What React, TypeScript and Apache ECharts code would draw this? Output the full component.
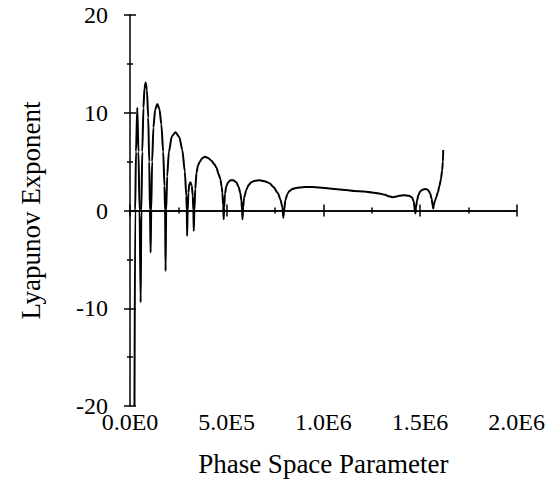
import React, { useEffect, useRef } from "react";
import * as echarts from "echarts";

// Phase space parameter (x) and Lyapunov exponent (y)
const xValues = [
  23196, 26804, 30928, 37629, 43814, 49484, 55154,
  58762, 63402, 69587, 74742, 80927, 87628, 94329, 99484, 103092, 106700,
  109793, 114433, 121134, 129897, 140721, 152062, 162371, 171649, 178350, 181443, 184020,
  187112, 192266, 201029, 216493, 235565, 255153, 270617, 283503, 291235, 293812, 295359,
  298451, 302059, 306698, 312884, 319585, 324739, 327832, 329894,
  332987, 337626, 343812, 351544, 360822, 373709, 386595, 402059, 421131, 435564, 446904, 458760, 467523, 474224, 477832, 481955, 484532,
  487110, 491233, 498450, 507728, 520615, 533501, 549996, 561852, 570614, 576284, 579893, 581954,
  585047, 590202, 601542, 613397, 627315, 646903, 670098, 695871, 721644, 742262, 764426, 778343, 788652, 792775,
  796901, 804118, 814427, 824736, 840200, 858241, 876282, 907210, 943292, 979374, 1030920, 1082466, 1116999, 1159785, 1211331, 1252568, 1288650, 1319578, 1340196, 1357207, 1371124, 1391743, 1417516, 1443288, 1458752, 1468031, 1473185, 1476278,
  1479370, 1484525, 1492257, 1502566, 1515453, 1529370, 1541226, 1551535, 1560298, 1565452, 1568545,
  1572153, 1577308, 1585040, 1592771, 1600503, 1608235, 1614420, 1618544, 1620090,
];
const yValues = [
  -20, 0, 6, 10.5, 6, 0, -9.4,
  0, 6, 10.5, 12.5, 13.1, 12.3, 9.5, 5, 0, -4.3,
  0, 5, 8.5, 10.3, 10.9, 10.4, 8.8, 6, 2.5, 0, -6.2,
  0, 3.5, 6, 7.6, 8.0, 7.5, 6.2, 4, 1.5, 0, -2.6,
  0, 1.8, 2.7, 2.9, 2.5, 1.5, 0, -2.1,
  0, 2.2, 3.85, 4.6, 5.0, 5.35, 5.5, 5.4, 5.1, 4.75, 4.4, 3.7, 3.2, 2.4, 1.8, 0.5, -0.9,
  0.3, 1.7, 2.5, 2.9, 3.1, 3.1, 2.9, 2.4, 1.8, 1.0, 0, -0.9,
  0.3, 1.3, 2.1, 2.6, 2.9, 3.05, 3.1, 3.0, 2.8, 2.4, 1.8, 1.1, 0.3, -0.75,
  0, 1.1, 1.7, 2.0, 2.2, 2.3, 2.35, 2.4, 2.4, 2.35, 2.25, 2.15, 2.1, 2.0, 1.95, 1.85, 1.75, 1.6, 1.45, 1.36, 1.4, 1.5, 1.55, 1.5, 1.35, 0.9, 0, -0.3,
  0.3, 1.0, 1.6, 2.0, 2.15, 2.2, 2.1, 1.8, 1.2, 0.5, 0.2,
  0.6, 1.0, 1.4, 1.9, 2.5, 3.2, 4.1, 5.0, 6.2,
];

const xTickLabels = ["0.0E0", "5.0E5", "1.0E6", "1.5E6", "2.0E6"];
const xStep = 500000;
const xMin = 0;
const xMax = 2000000;
const yMin = -20;
const yMax = 20;
const yStep = 10;

const xTitle = "Phase Space Parameter";
const yTitle = "Lyapunov Exponent";

const FONT = "'Liberation Serif', 'DejaVu Serif', serif";
const BLACK = "#000";

export default function App() {
  const ref = useRef<HTMLDivElement>(null);

  useEffect(() => {
    if (!ref.current) return;
    const chart = echarts.init(ref.current, undefined, { renderer: "svg" });
    const data = xValues.map((x, i) => [x, yValues[i]]);
    const line = { color: BLACK, width: 1.5 };

    const xBase = {
      type: "value" as const,
      min: xMin,
      max: xMax,
      interval: xStep,
      position: "bottom" as const,
      splitLine: { show: false },
    };
    const yBase = {
      type: "value" as const,
      min: yMin,
      max: yMax,
      interval: yStep,
      position: "left" as const,
      splitLine: { show: false },
    };

    chart.setOption({
      animation: false,
      backgroundColor: "#fff",
      grid: { left: 130, right: 30, top: 15, bottom: 74 },
      xAxis: [
        {
          ...xBase,
          axisLine: { show: false, onZero: false },
          axisTick: { show: false },
          minorTick: { show: false },
          axisLabel: {
            formatter: (v: number) => xTickLabels[Math.round(v / xStep)] ?? "",
            fontFamily: FONT,
            fontSize: 24,
            color: BLACK,
            margin: 4,
          },
          name: xTitle,
          nameLocation: "middle",
          nameGap: 44,
          nameTextStyle: { fontFamily: FONT, fontSize: 27, color: BLACK },
        },
        {
          ...xBase,
          axisLine: { show: true, onZero: true, onZeroAxisIndex: 0, lineStyle: line },
          axisTick: { show: true, inside: false, length: 6, lineStyle: line },
          minorTick: { show: true, splitNumber: 2, length: 3, lineStyle: line },
          axisLabel: { show: false },
        },
        {
          ...xBase,
          axisLine: { show: true, onZero: true, onZeroAxisIndex: 0, lineStyle: line },
          axisTick: { show: true, inside: true, length: 6, lineStyle: line },
          minorTick: { show: true, splitNumber: 2, length: 3, lineStyle: line },
          axisLabel: { show: false },
        },
      ],
      yAxis: [
        {
          ...yBase,
          axisLine: { show: true, onZero: false, lineStyle: line },
          axisTick: { show: true, inside: false, length: 6, lineStyle: line },
          minorTick: { show: true, splitNumber: 2, length: 3, lineStyle: line },
          axisLabel: { fontFamily: FONT, fontSize: 24, color: BLACK, margin: 22 },
          name: yTitle,
          nameLocation: "middle",
          nameGap: 86,
          nameTextStyle: { fontFamily: FONT, fontSize: 27, color: BLACK },
        },
        {
          ...yBase,
          axisLine: { show: false, onZero: false },
          axisTick: { show: true, inside: true, length: 6, lineStyle: line },
          minorTick: { show: true, splitNumber: 2, length: 3, lineStyle: line },
          axisLabel: { show: false },
        },
      ],
      series: [
        {
          type: "line",
          xAxisIndex: 0,
          yAxisIndex: 0,
          data,
          showSymbol: false,
          symbol: "none",
          smooth: 0.25,
          smoothMonotone: "x",
          clip: true,
          lineStyle: { color: BLACK, width: 2 },
        },
      ],
    });
    return () => chart.dispose();
  }, []);

  return (
    <div
      ref={ref}
      style={{ position: "absolute", left: 0, top: 0, width: 548, height: 482 }}
    />
  );
}
